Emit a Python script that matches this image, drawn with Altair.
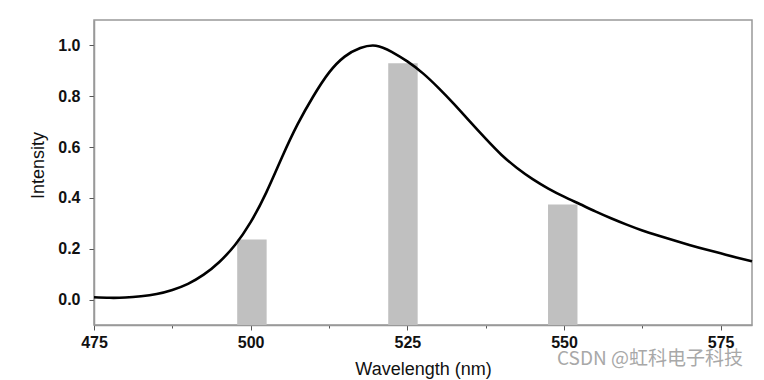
import altair as alt
import pandas as pd

# Emission spectrum (curve), read every 2.5 nm
wavelength = [475.0, 477.5, 480.0, 482.5, 485.0, 487.5, 490.0, 492.5, 495.0, 497.5,
              500.0, 502.5, 505.0, 507.5, 510.0, 512.5, 515.0, 517.5, 520.0, 522.5,
              525.0, 527.5, 530.0, 532.5, 535.0, 537.5, 540.0, 542.5, 545.0, 547.5,
              550.0, 552.5, 555.0, 557.5, 560.0, 562.5, 565.0, 567.5, 570.0, 572.5,
              575.0, 577.5, 580.0]
intensity = [0.009, 0.007, 0.008, 0.013, 0.022, 0.038, 0.062, 0.098, 0.148, 0.215,
             0.305, 0.422, 0.560, 0.690, 0.800, 0.893, 0.956, 0.990, 0.999, 0.975,
             0.937, 0.890, 0.832, 0.768, 0.700, 0.633, 0.570, 0.518, 0.474, 0.437,
             0.405, 0.376, 0.347, 0.320, 0.295, 0.272, 0.252, 0.233, 0.215, 0.198,
             0.182, 0.166, 0.151]

# Bars
bar_center = [500.2, 524.3, 549.8]
bar_value = [0.236, 0.930, 0.374]

# Axis ticks
x_ticks = [475, 487.5, 500, 512.5, 525, 537.5, 550, 562.5, 575]
y_ticks = [0.0, 0.1, 0.2, 0.3, 0.4, 0.5, 0.6, 0.7, 0.8, 0.9, 1.0]

BAR_W = 4.7

curve_df = pd.DataFrame({"wl": wavelength, "I": intensity})
bar_df = pd.DataFrame({
    "left": [c - BAR_W / 2 for c in bar_center],
    "right": [c + BAR_W / 2 for c in bar_center],
    "I": bar_value,
})

W, H = 658, 305
xscale = alt.Scale(domain=[475, 580], nice=False, zero=False)
yscale = alt.Scale(domain=[-0.1, 1.1], nice=False, zero=False)

xaxis = alt.Axis(
    values=x_ticks, title="Wavelength (nm)",
    labelExpr="datum.value % 25 === 0 ? datum.label : ''",
    tickSize={"condition": {"test": "datum.value % 25 === 0", "value": 5}, "value": 3},
    labelPadding=4, labelFlush=False, titleY=35, titleBaseline="top",
    grid=False,
)
yaxis = alt.Axis(
    values=y_ticks, title="Intensity",
    labelExpr="round(datum.value*10) % 2 === 0 ? format(datum.value, '.1f') : ''",
    tickSize={"condition": {"test": "round(datum.value*10) % 2 === 0", "value": 5}, "value": 3},
    labelPadding=9, labelFlush=False, titleX=-47, titleY=145,
    grid=False,
)

bars = alt.Chart(bar_df).mark_rect(color="#c0c0c0").encode(
    x=alt.X("left:Q", scale=xscale, axis=xaxis),
    x2="right:Q",
    y=alt.Y("I:Q", scale=yscale, axis=yaxis),
    y2=alt.value(H),
)

line = alt.Chart(curve_df).mark_line(color="black", strokeWidth=2.6, interpolate="natural").encode(
    x=alt.X("wl:Q", scale=xscale),
    y=alt.Y("I:Q", scale=yscale),
)

watermark = alt.Chart(pd.DataFrame({"t": ["CSDN @虹科电子科技"]})).mark_text(
    align="left", baseline="middle", font="Noto Sans CJK SC", fontSize=19, color="#a8a8a8"
).encode(
    x=alt.value(463), y=alt.value(339), text="t:N"
)

chart = alt.layer(bars, line, watermark).properties(
    width=W, height=H,
    autosize=alt.AutoSizeParams(type="none"),
    padding={"left": 86, "top": 12, "right": 4, "bottom": 55},
).configure_view(
    stroke="#999999", strokeWidth=1.5
).configure_axis(
    domainColor="#999999", domainWidth=1.5,
    tickColor="#555555", tickWidth=1,
    labelFont="Liberation Sans", labelFontWeight="bold", labelFontSize=16, labelColor="#111111",
    titleFont="Liberation Sans", titleFontWeight="normal", titleFontSize=18, titleColor="#111111",
)

chart.save("out.html", embed_options={"renderer": "svg", "actions": False})
